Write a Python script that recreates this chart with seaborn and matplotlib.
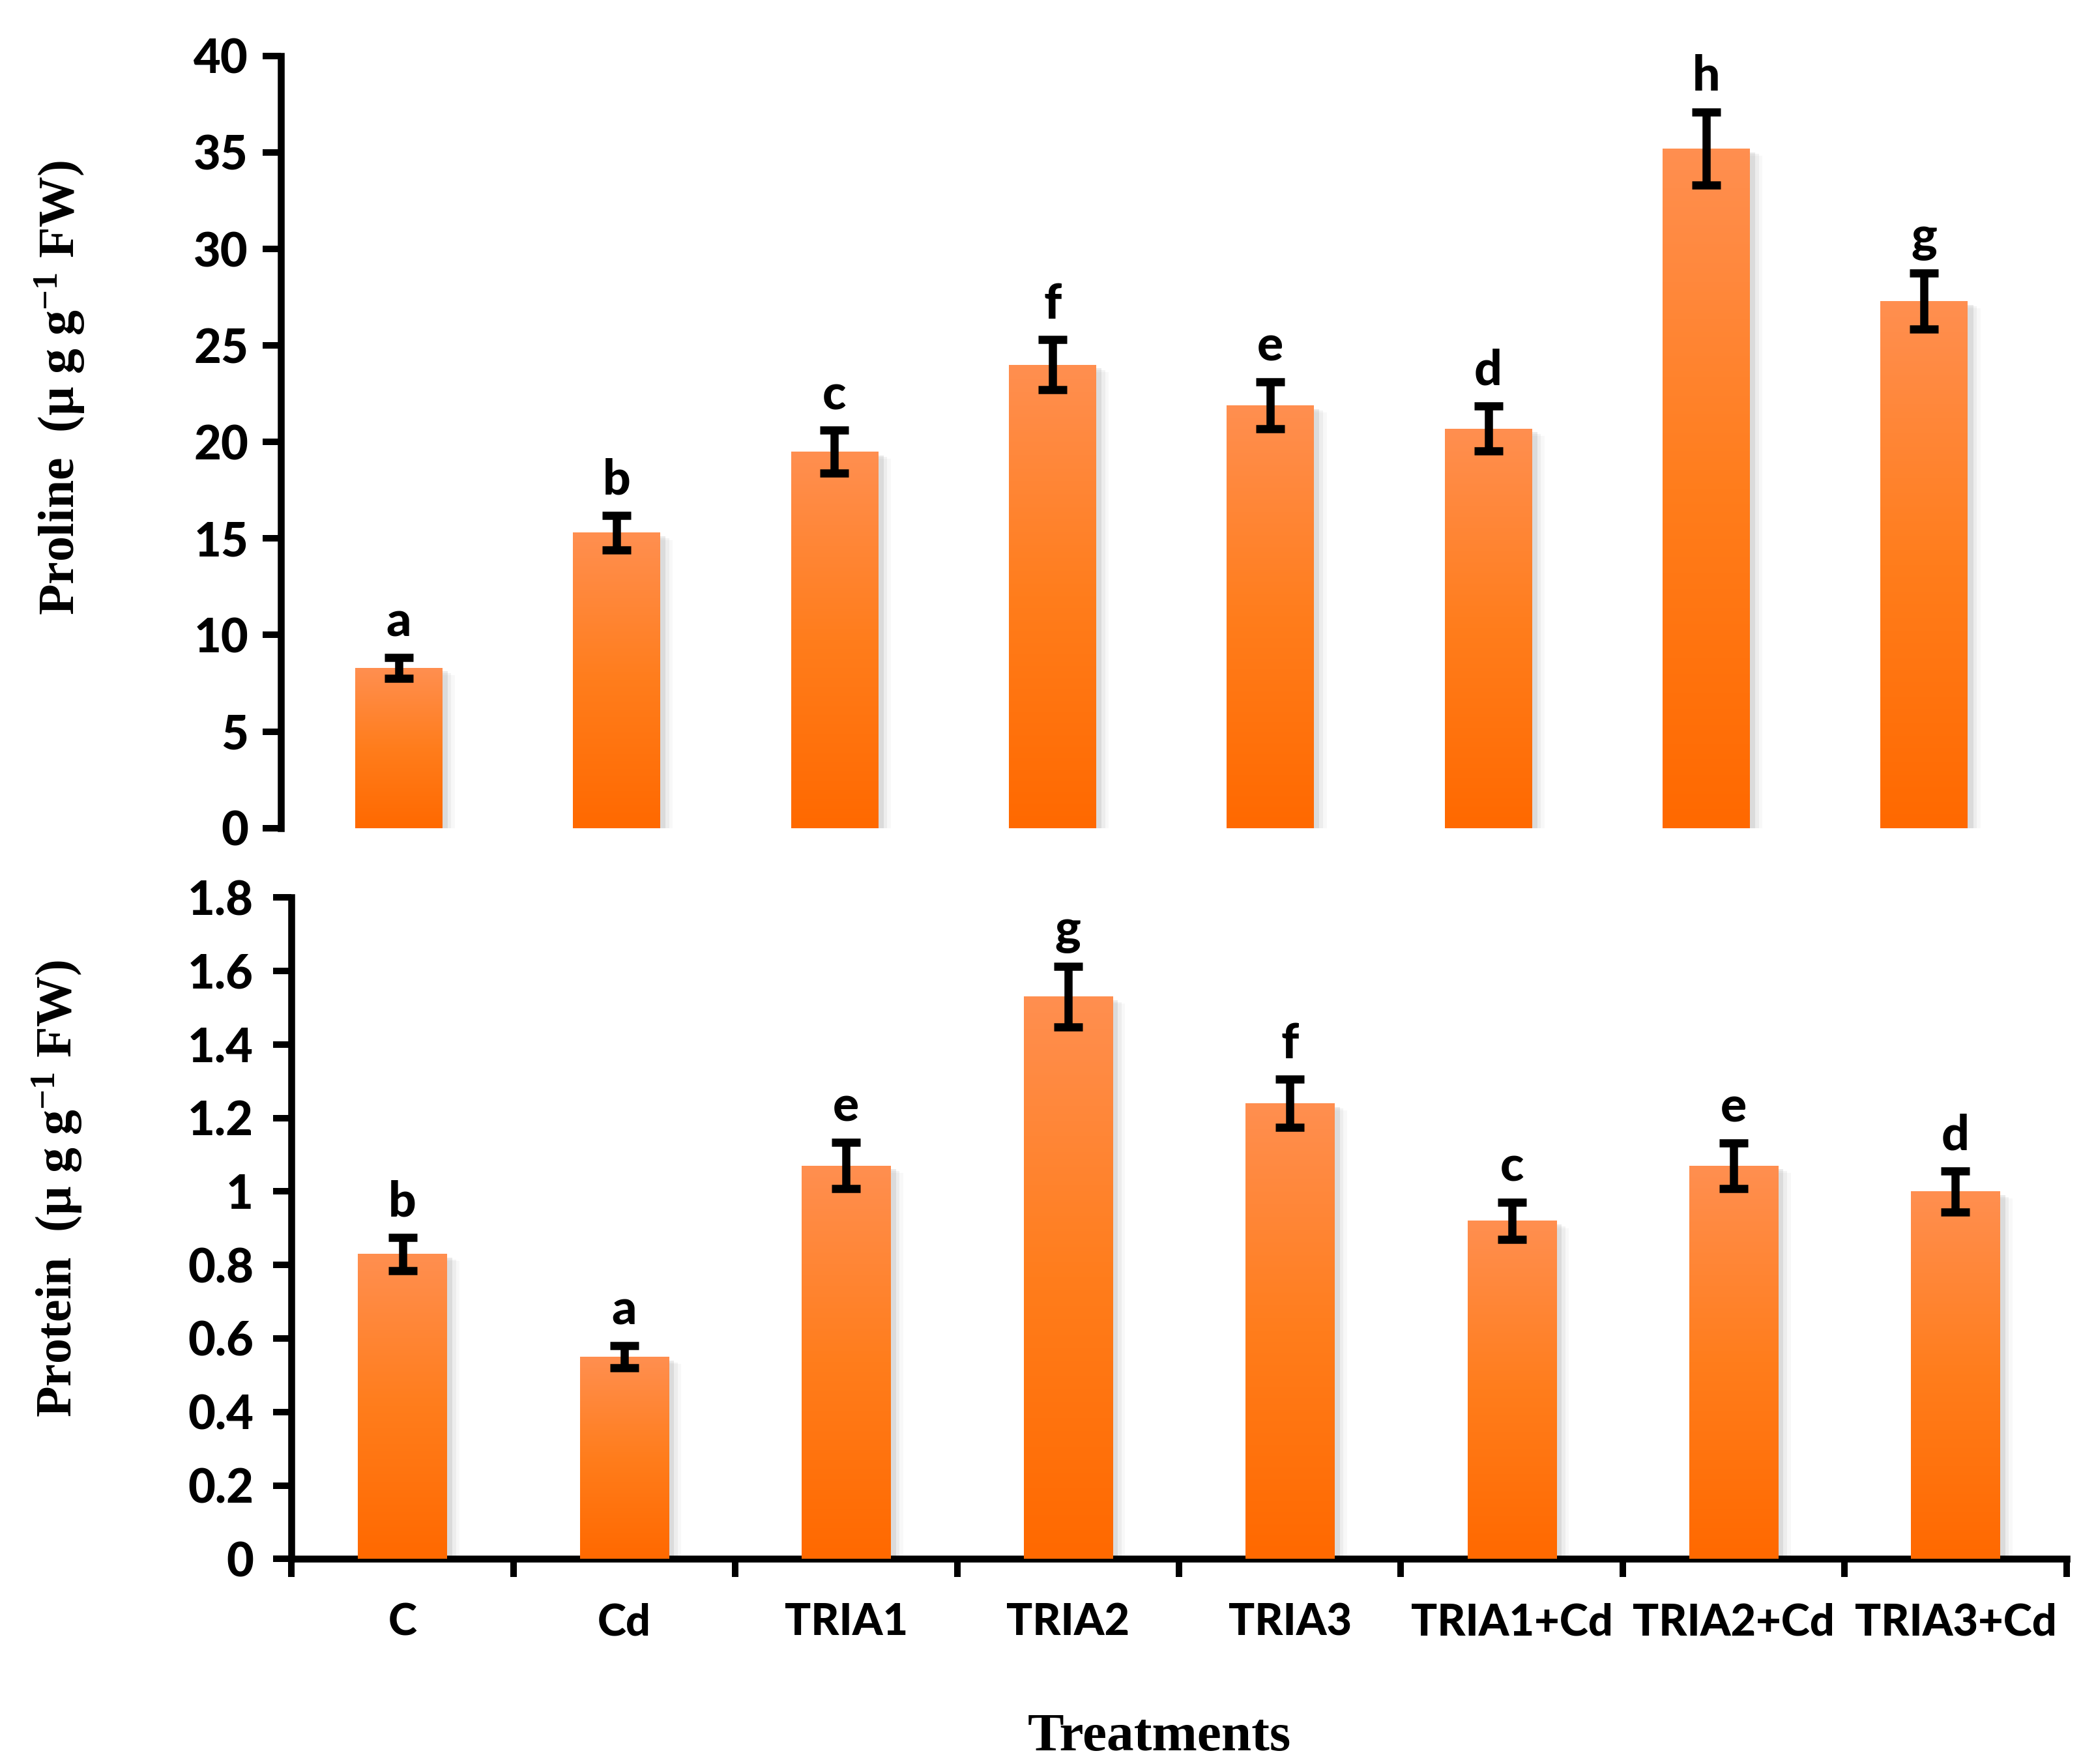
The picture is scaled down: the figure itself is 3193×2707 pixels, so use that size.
import matplotlib.pyplot as plt
import matplotlib.patheffects as pe
from matplotlib.colors import LinearSegmentedColormap
import numpy as np
import seaborn as sns

treatments = ["C", "Cd", "TRIA1", "TRIA2", "TRIA3", "TRIA1+Cd", "TRIA2+Cd", "TRIA3+Cd"]

proline = [8.3, 15.3, 19.5, 24.0, 21.9, 20.7, 35.2, 27.3]
proline_err = [0.55, 0.9, 1.1, 1.3, 1.2, 1.15, 1.9, 1.45]
proline_letters = ["a", "b", "c", "f", "e", "d", "h", "g"]

protein = [0.83, 0.55, 1.07, 1.53, 1.24, 0.92, 1.07, 1.00]
protein_err = [0.045, 0.03, 0.063, 0.083, 0.065, 0.05, 0.062, 0.056]
protein_letters = ["b", "a", "e", "g", "f", "c", "e", "d"]

sns.set_style("white")
plt.rcParams["font.family"] = ["Lato", "DejaVu Sans"]
plt.rcParams["text.color"] = "black"
plt.rcParams["axes.labelcolor"] = "black"
plt.rcParams["xtick.color"] = "black"
plt.rcParams["ytick.color"] = "black"
plt.rcParams["mathtext.fontset"] = "custom"
plt.rcParams["mathtext.rm"] = "Liberation Serif:bold"
plt.rcParams["mathtext.bf"] = "Liberation Serif:bold"
plt.rcParams["mathtext.it"] = "Liberation Serif:bold:italic"

# orange gradient, darker at the bottom of each bar
bar_cmap = LinearSegmentedColormap.from_list("bar", ["#ff6900", "#ff7d1c", "#ff8f50"])
gradient = np.linspace(0, 1, 256).reshape(-1, 1)
serif = ["Liberation Serif", "DejaVu Serif"]
heavy = 900


def draw_panel(ax, values, errs, letters, ymax, ystep, ylabel, label_x, label_y, tick_pad):
    sns.barplot(x=treatments, y=values, color="#ff7a20", width=0.4, ax=ax, zorder=2)
    for bar in ax.patches:
        x0, w, h = bar.get_x(), bar.get_width(), bar.get_height()
        bar.set_facecolor("none")
        bar.set_edgecolor("none")
        bar.set_path_effects([
            pe.SimplePatchShadow(offset=(3, -2), shadow_rgbFace="0.45", alpha=0.15),
            pe.SimplePatchShadow(offset=(5, -3), shadow_rgbFace="0.55", alpha=0.10),
            pe.SimplePatchShadow(offset=(7, -4), shadow_rgbFace="0.65", alpha=0.07),
            pe.Normal(),
        ])
        im = ax.imshow(gradient, cmap=bar_cmap, origin="lower", aspect="auto",
                       extent=[x0, x0 + w, 0, h], zorder=3)
        im.set_clip_path(bar)

    xs = np.arange(len(treatments))
    ax.errorbar(xs, values, yerr=errs, fmt="none", ecolor="black",
                elinewidth=4.5, capsize=8, capthick=4.5, zorder=4)
    for x, v, e, lab in zip(xs, values, errs, letters):
        ax.annotate(lab, (x, v + e), xytext=(0, 7), textcoords="offset points",
                    ha="center", va="bottom", fontsize=27, fontweight=heavy, color="black")

    ticks = np.arange(0, ymax + ystep / 2, ystep)
    ax.set_ylim(0, ymax)
    ax.set_yticks(ticks)
    ax.set_yticklabels([f"{t:g}" for t in ticks], fontsize=26, fontweight=heavy)
    ax.tick_params(axis="y", direction="out", length=10, width=3.6, pad=tick_pad, left=True,
                   colors="black")
    ax.set_ylabel(ylabel, fontsize=28, fontweight="bold", family=serif, color="black")
    ax.yaxis.set_label_coords(label_x, label_y)
    ax.set_xlabel("")
    sns.despine(ax=ax)
    for s in ["left", "bottom"]:
        ax.spines[s].set_linewidth(3.8)
        ax.spines[s].set_color("black")


fig = plt.figure(figsize=(3193 / 200, 2707 / 200), dpi=200)
ax1 = fig.add_axes([0.135, 0.5306, 0.842, 0.4377])
ax2 = fig.add_axes([0.1401, 0.1162, 0.8529, 0.3751])

draw_panel(ax1, proline, proline_err, proline_letters, 40, 5,
           "Proline  (µ g g$^{-1}$ FW)", -0.111, 0.57, 8)
ax1.set_xlim(-0.54, 7.5)
ax1.spines["bottom"].set_visible(False)
ax1.tick_params(axis="x", bottom=False, labelbottom=False)

draw_panel(ax2, protein, protein_err, protein_letters, 1.8, 0.2,
           "Protein  (µ g g$^{-1}$ FW)", -0.117, 0.56, 11)
ax2.set_xlim(-0.5, 7.5)
ax2.set_xticks(np.arange(len(treatments)))
ax2.set_xticklabels(treatments, fontsize=24, fontweight=heavy)
ax2.tick_params(axis="x", which="major", length=0, pad=24, colors="black")
ax2.set_xticks(np.arange(-0.5, len(treatments), 1), minor=True)
ax2.tick_params(axis="x", which="minor", bottom=True, direction="out", length=10, width=3.6,
                colors="black")

fig.text(0.557, 0.015, "Treatments", ha="center", va="center",
         fontsize=30, fontweight="bold", family=serif, color="black")

fig.savefig("out.png", dpi=200)
